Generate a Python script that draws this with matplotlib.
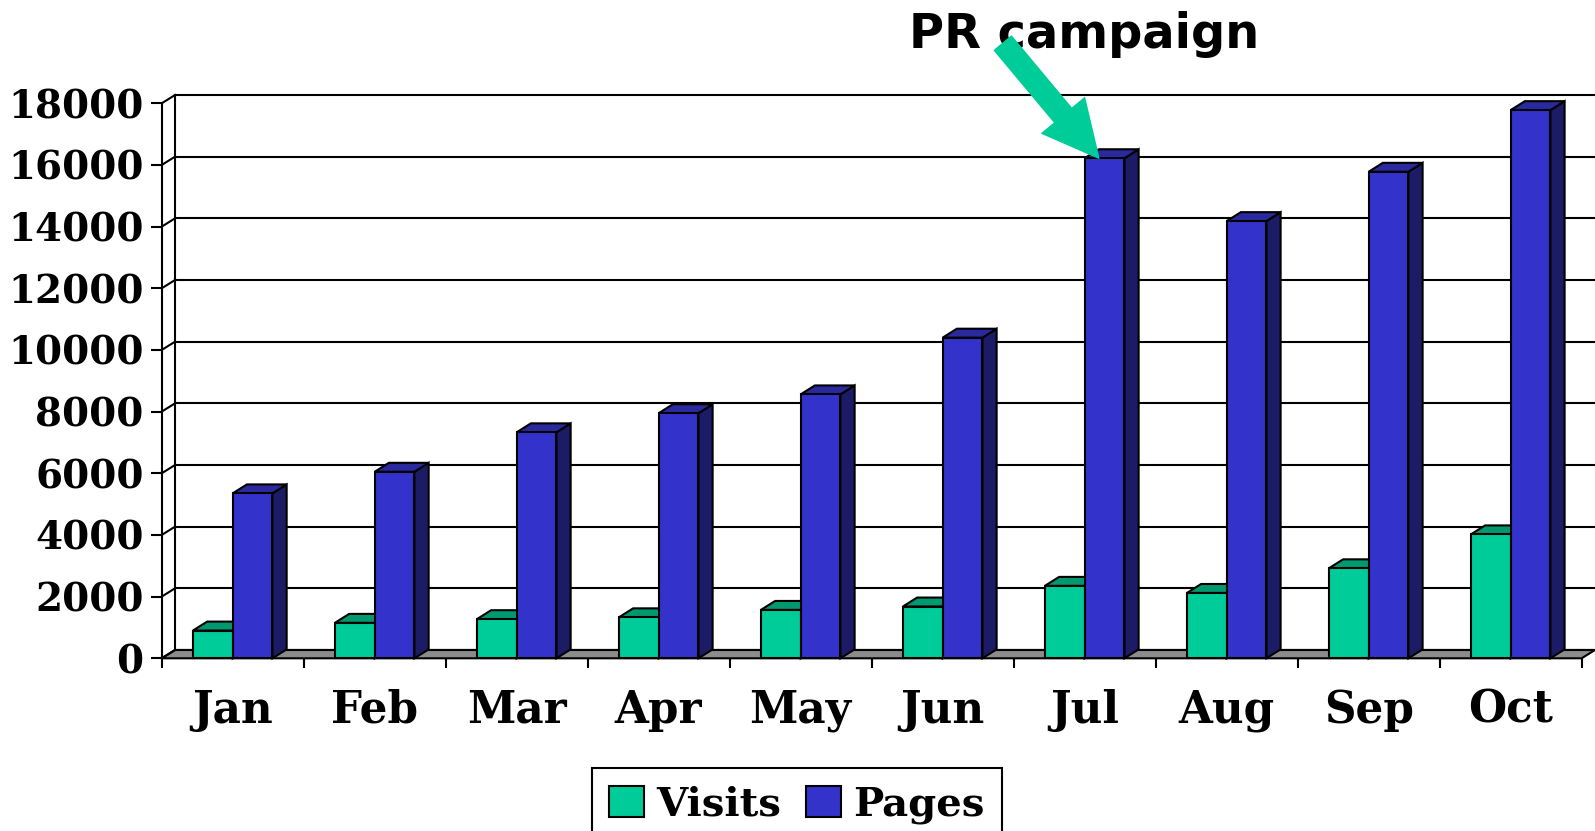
import numpy as np
import matplotlib.pyplot as plt
from matplotlib.patches import Polygon, Patch

# data
months = ['Jan', 'Feb', 'Mar', 'Apr', 'May', 'Jun', 'Jul', 'Aug', 'Sep', 'Oct']
visits = [900, 1150, 1270, 1330, 1570, 1680, 2350, 2120, 2920, 4020]
pages = [5350, 6050, 7330, 7950, 8560, 10400, 16220, 14180, 15780, 17780]
y_ticks = list(range(0, 18001, 2000))

# colours: front, top, side
visits_col = ('#00cc99', '#00996f', '#00664a')
pages_col = ('#3333cc', '#2a2a9e', '#1c1c66')
floor_col = '#8c8c8c'

plt.rcParams['font.family'] = 'DejaVu Serif'
plt.rcParams['font.weight'] = 'bold'

W, H = 1595, 831
fig = plt.figure(figsize=(W / 100, H / 100), dpi=100)

# plot box in pixels
x_front, y_zero, y_back_top = 161.7, 658.3, 95
n = len(months)
wdx, wdy = 0.094, 270      # depth of the walls (data units)
bdx, bdy = 0.10, 290       # depth of the bars
bw = 0.28

ax = fig.add_axes([x_front / W, 1 - y_zero / H,
                   (W - x_front) / W, (y_zero - y_back_top) / H])
ax.set_xlim(0, n + wdx)
ax.set_ylim(0, y_ticks[-1] + wdy)
for s in ax.spines.values():
    s.set_visible(False)

lw = 1.5
# floor
ax.add_patch(Polygon([(0, 0), (n, 0), (n + wdx, wdy), (wdx, wdy)],
                     closed=True, facecolor=floor_col, edgecolor='black',
                     lw=lw, zorder=1, clip_on=False))
# back wall grid + side wall diagonals
for v in y_ticks:
    ax.plot([wdx, n + wdx], [v + wdy, v + wdy], color='black', lw=lw,
            zorder=1.5, clip_on=False, solid_capstyle='butt')
    ax.plot([0, wdx], [v, v + wdy], color='black', lw=lw, zorder=1.5,
            clip_on=False)
ax.plot([wdx, wdx], [wdy, y_ticks[-1] + wdy], color='black', lw=lw,
        zorder=1.5, clip_on=False)
ax.plot([0, 0], [0, y_ticks[-1]], color='black', lw=lw, zorder=1.6,
        clip_on=False)


def bar3d(x0, val, cols, z):
    x1 = x0 + bw
    side = [(x1, 0), (x1 + bdx, bdy), (x1 + bdx, val + bdy), (x1, val)]
    top = [(x0, val), (x1, val), (x1 + bdx, val + bdy), (x0 + bdx, val + bdy)]
    front = [(x0, 0), (x1, 0), (x1, val), (x0, val)]
    for pts, c in [(side, cols[2]), (top, cols[1]), (front, cols[0])]:
        ax.add_patch(Polygon(pts, closed=True, facecolor=c, edgecolor='black',
                             lw=lw, zorder=z, joinstyle='miter', clip_on=False))


for i in range(n):
    bar3d(i + 0.22, visits[i], visits_col, 3 + 2 * i)
    bar3d(i + 0.50, pages[i], pages_col, 4 + 2 * i)

# ticks
ax.set_yticks(y_ticks)
ax.set_yticklabels([str(v) for v in y_ticks])
ax.tick_params(axis='y', length=8, width=lw, pad=5, labelsize=28)
ax.set_xticks(range(n + 1))
ax.set_xticklabels([])
ax.set_xticks(np.arange(n) + 0.5, minor=True)
ax.set_xticklabels(months, minor=True)
ax.tick_params(axis='x', which='major', length=7, width=lw)
ax.tick_params(axis='x', which='minor', length=0, pad=22, labelsize=31.5)

# annotation
ax.text(1084 / W, 1 - 48 / H, 'PR campaign', transform=fig.transFigure,
        ha='center', va='baseline', fontsize=34.5, family='DejaVu Sans',
        weight='bold', zorder=40)
ax.annotate('', xy=(6.5 + bdx, pages[6]), xytext=(-96, 115),
            textcoords='offset pixels', annotation_clip=False, zorder=50,
            arrowprops=dict(arrowstyle='simple,head_length=2.0,head_width=2.0,tail_width=0.8',
                            mutation_scale=20, color='#00cc99',
                            shrinkA=0, shrinkB=0))

# legend
handles = [Patch(facecolor=visits_col[0], edgecolor='black', lw=lw),
           Patch(facecolor=pages_col[0], edgecolor='black', lw=lw)]
leg = fig.legend(handles, ['Visits', 'Pages'], loc='upper left',
                 bbox_to_anchor=(592 / W, 1 - 768 / H), ncol=2,
                 fancybox=False, edgecolor='black', framealpha=1,
                 prop=dict(family='DejaVu Serif', weight='bold', size=29),
                 handlelength=0.87, handleheight=0.82, handletextpad=0.3,
                 columnspacing=0.62, borderpad=0.43, borderaxespad=0)
leg.get_frame().set_linewidth(lw)

fig.savefig('out.png', dpi=100)
